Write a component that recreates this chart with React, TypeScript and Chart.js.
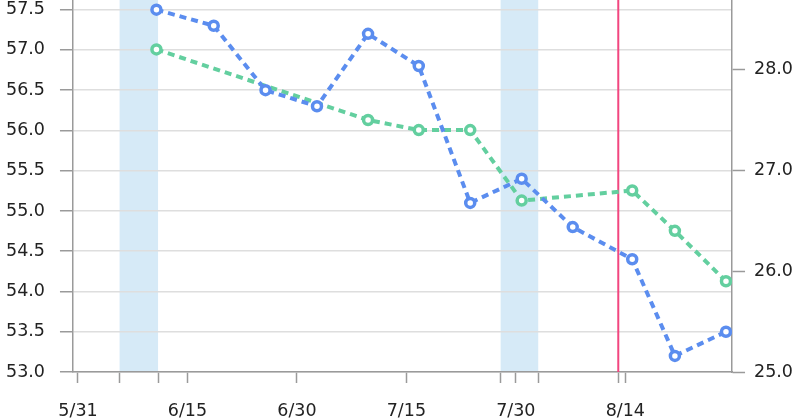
import React, { useEffect, useRef } from 'react';
import { Chart, registerables } from 'chart.js';

Chart.register(...registerables);

// x values are days counted from 5/31
const dateTickDays = [0, 15, 30, 45, 60, 75];
const dateTickLabels = ['5/31', '6/15', '6/30', '7/15', '7/30', '8/14'];
const bandStarts = [5.7, 57.92];
const bandEnds = [10.97, 63.07];
const eventDays = [74.04];

const weightDays = [10.75, 18.6, 25.7, 32.75, 39.75, 46.7, 53.75, 60.8, 67.8, 75.95, 81.8, 88.8];
const weightValues = [57.5, 57.3, 56.5, 56.3, 57.2, 56.8, 55.1, 55.4, 54.8, 54.4, 53.2, 53.5];
const fatDays = [10.75, 39.75, 46.7, 53.75, 60.8, 75.95, 81.8, 88.8];
const fatValues = [28.2, 27.5, 27.4, 27.4, 26.7, 26.8, 26.4, 25.9];

const leftTicks = [53.0, 53.5, 54.0, 54.5, 55.0, 55.5, 56.0, 56.5, 57.0, 57.5];
const rightTicks = [25.0, 26.0, 27.0, 28.0];

const xMin = -0.69;
const xMax = 89.63;
const leftMin = 53.0;
const leftMax = 57.62;
const rightMin = 25.0;
const rightMax = 28.69;

const BLUE = '#5b8def';
const GREEN = '#63cf9f';
const BAND = '#d6eaf7';
const EVENT = '#f2467f';
const FONT = { family: '"DejaVu Sans", Verdana, sans-serif', size: 17.5 };
const TEXT = '#222222';
const AXIS = '#9a9a9a';
const GRID = '#dedede';

const allXTicks = [...dateTickDays, ...bandStarts, ...bandEnds, ...eventDays].sort((a, b) => a - b);

const decorPlugin = {
  id: 'decor',
  beforeDraw(chart: any) {
    const { ctx, chartArea, scales } = chart;
    const x = scales.x;
    ctx.save();
    ctx.fillStyle = BAND;
    bandStarts.forEach((s, i) => {
      const x0 = x.getPixelForValue(s);
      const x1 = x.getPixelForValue(bandEnds[i]);
      ctx.fillRect(x0, chartArea.top, x1 - x0, chartArea.bottom - chartArea.top);
    });
    ctx.restore();
  },
  beforeDatasetsDraw(chart: any) {
    const { ctx, chartArea, scales } = chart;
    const x = scales.x;
    ctx.save();
    ctx.strokeStyle = EVENT;
    ctx.lineWidth = 2;
    eventDays.forEach((d) => {
      const px = x.getPixelForValue(d);
      ctx.beginPath();
      ctx.moveTo(px, chartArea.top);
      ctx.lineTo(px, chartArea.bottom);
      ctx.stroke();
    });
    ctx.restore();
  },
};

const noPad = (scale: any) => {
  scale.paddingTop = 0;
  scale.paddingBottom = 0;
  scale.paddingLeft = 0;
  scale.paddingRight = 0;
};

export default function App() {
  const ref = useRef<HTMLCanvasElement>(null);
  useEffect(() => {
    if (!ref.current) return;
    const chart = new Chart(ref.current, {
      type: 'line',
      data: {
        datasets: [
          {
            label: 'weight',
            data: weightDays.map((d, i) => ({ x: d, y: weightValues[i] })),
            yAxisID: 'y',
            borderColor: BLUE,
            backgroundColor: '#ffffff',
            pointBorderColor: BLUE,
            pointBackgroundColor: '#ffffff',
            borderWidth: 4,
            borderDash: [7, 5],
            pointRadius: 4.5,
            pointBorderWidth: 3.5,
            tension: 0,
          },
          {
            label: 'fat',
            data: fatDays.map((d, i) => ({ x: d, y: fatValues[i] })),
            yAxisID: 'y1',
            borderColor: GREEN,
            backgroundColor: '#ffffff',
            pointBorderColor: GREEN,
            pointBackgroundColor: '#ffffff',
            borderWidth: 4,
            borderDash: [7, 5],
            pointRadius: 4.5,
            pointBorderWidth: 3.5,
            tension: 0,
          },
        ],
      },
      options: {
        animation: false,
        responsive: true,
        maintainAspectRatio: false,
        layout: { padding: 0, autoPadding: false },
        plugins: { legend: { display: false }, tooltip: { enabled: false } },
        scales: {
          x: {
            type: 'linear',
            min: xMin,
            max: xMax,
            afterBuildTicks: (scale: any) => {
              scale.ticks = allXTicks.map((v) => ({ value: v }));
            },
            afterFit: noPad,
            ticks: {
              autoSkip: false,
              maxRotation: 0,
              minRotation: 0,
              padding: 18,
              color: TEXT,
              font: FONT,
              callback: (value: any) => {
                const i = dateTickDays.indexOf(Number(value));
                return i >= 0 ? dateTickLabels[i] : '';
              },
            },
            grid: {
              drawOnChartArea: false,
              drawTicks: true,
              tickLength: 11,
              tickColor: AXIS,
              tickWidth: 1.5,
            },
            border: { color: AXIS, width: 1.5 },
          },
          y: {
            type: 'linear',
            position: 'left',
            min: leftMin,
            max: leftMax,
            afterBuildTicks: (scale: any) => {
              scale.ticks = leftTicks.map((v) => ({ value: v }));
            },
            afterFit: noPad,
            ticks: {
              padding: 15,
              color: TEXT,
              font: FONT,
              callback: (value: any) => Number(value).toFixed(1),
            },
            grid: {
              color: GRID,
              lineWidth: 1.5,
              tickLength: 13,
              tickColor: AXIS,
              tickWidth: 1.5,
            },
            border: { color: AXIS, width: 1.5 },
          },
          y1: {
            type: 'linear',
            position: 'right',
            min: rightMin,
            max: rightMax,
            afterBuildTicks: (scale: any) => {
              scale.ticks = rightTicks.map((v) => ({ value: v }));
            },
            afterFit: noPad,
            ticks: {
              padding: 9,
              color: TEXT,
              font: FONT,
              callback: (value: any) => Number(value).toFixed(1),
            },
            grid: {
              drawOnChartArea: false,
              tickLength: 13,
              tickColor: AXIS,
              tickWidth: 1.5,
            },
            border: { color: AXIS, width: 1.5 },
          },
        },
      },
      plugins: [decorPlugin],
    } as any);
    return () => chart.destroy();
  }, []);

  return (
    <div style={{ position: 'fixed', left: -9, top: 0, width: 811, height: 440, background: '#ffffff' }}>
      <canvas ref={ref} />
    </div>
  );
}
